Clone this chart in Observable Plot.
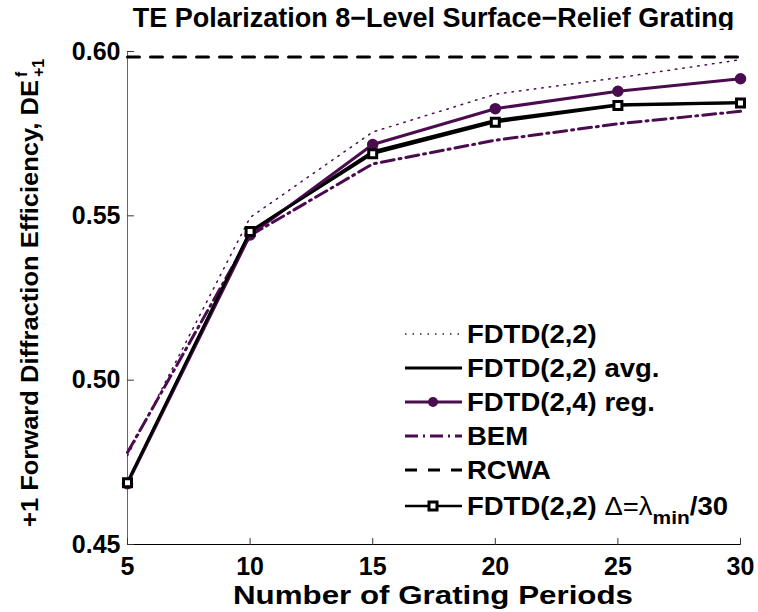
<!DOCTYPE html>
<html><head><meta charset="utf-8">
<script src="https://cdn.jsdelivr.net/npm/d3@7"></script>
<script src="https://cdn.jsdelivr.net/npm/@observablehq/plot@0.6"></script>
<style>
body{margin:0;background:#fff;font-family:"Liberation Sans",Arial,sans-serif;}
#wrap{position:relative;width:758px;height:612px;overflow:hidden;}
#title{position:absolute;top:3px;left:127px;width:613px;line-height:30px;text-align:center;font-weight:bold;font-size:27px;color:#000;white-space:nowrap;}
#chart{position:absolute;top:30px;left:0;}
</style></head>
<body><div id="wrap"><div id="title">TE Polarization 8−Level Surface−Relief Grating</div><div id="chart"></div></div>
<script>
const periods = [5, 10, 15, 20, 25, 30];
const fdtd22 = [0.4770, 0.5495, 0.5755, 0.5870, 0.5920, 0.5975];
const fdtd22avg = [0.4690, 0.5452, 0.5695, 0.5790, 0.5838, 0.5845];
const fdtd24reg = [0.4685, 0.5442, 0.5717, 0.5826, 0.5879, 0.5917];
const bem = [0.4780, 0.5440, 0.5658, 0.5730, 0.5780, 0.5818];
const rcwaValue = 0.5983;
const fdtd22d30 = [0.4688, 0.5452, 0.5689, 0.5785, 0.5836, 0.5843];
const xTicks = [5, 10, 15, 20, 25, 30];
const yTicks = [0.45, 0.50, 0.55, 0.60];
const legendLabels = ["FDTD(2,2)", "FDTD(2,2) avg.", "FDTD(2,4) reg.", "BEM", "RCWA", "FDTD(2,2) Δ=λmin/30"];

const purple = "#4b0c4f";
const rows = (vals) => periods.map((p, i) => ({x: p, y: vals[i]}));
const rcwaRows = [{x: periods[0], y: rcwaValue}, {x: periods[periods.length - 1], y: rcwaValue}];
const tickShape = {draw(context, l) { context.moveTo(0, 0); context.lineTo(0, -l); }};

const plot = Plot.plot({
  width: 758, height: 582,
  marginLeft: 127, marginRight: 18, marginTop: 21, marginBottom: 68,
  style: {fontFamily: "Liberation Sans, Arial, sans-serif", background: "#fff", color: "#000"},
  x: {domain: [5, 30]},
  y: {domain: [0.45, 0.60]},
  marks: [
    Plot.ruleX([5], {stroke: "#666", strokeWidth: 1}),
    Plot.ruleY([0.45], {stroke: "#000", strokeWidth: 1}),
    Plot.vector(xTicks, {x: d => d, y: () => 0.45, length: 6, anchor: "start", shape: tickShape, stroke: "#333", strokeWidth: 1}),
    Plot.vector(yTicks, {x: () => 5, y: d => d, length: 6, rotate: 90, anchor: "start", shape: tickShape, stroke: "#333", strokeWidth: 1}),
    Plot.axisX({ticks: xTicks, tickSize: 0, tickPadding: 13, label: null, fontSize: 25, fontWeight: "bold", tickFormat: d3.format("d")}),
    Plot.axisY({ticks: yTicks, tickSize: 0, tickPadding: 7, label: null, fontSize: 25, fontWeight: "bold", tickFormat: d3.format(".2f")}),
    Plot.line(rows(fdtd22), {x: "x", y: "y", stroke: purple, strokeWidth: 1.5, strokeDasharray: "1.5,6"}),
    Plot.line(rows(fdtd22avg), {x: "x", y: "y", stroke: "#000", strokeWidth: 3}),
    Plot.line(rows(fdtd24reg), {x: "x", y: "y", stroke: purple, strokeWidth: 3}),
    Plot.dot(rows(fdtd24reg), {x: "x", y: "y", r: 5, fill: purple, stroke: purple}),
    Plot.line(rows(bem), {x: "x", y: "y", stroke: purple, strokeWidth: 3, strokeDasharray: "13,5,2,5"}),
    Plot.line(rcwaRows, {x: "x", y: "y", stroke: "#000", strokeWidth: 3, strokeDasharray: "12,11"}),
    Plot.line(rows(fdtd22d30), {x: "x", y: "y", stroke: "#000", strokeWidth: 2.5}),
    Plot.dot(rows(fdtd22d30), {x: "x", y: "y", symbol: "square", r: 4.5, fill: "#fff", stroke: "#000", strokeWidth: 3})
  ]
});
document.getElementById("chart").appendChild(plot);

const svg = d3.select(plot);
const FONT = "Liberation Sans, Arial, sans-serif";
// Y label (rotated), main text then stacked superscript/subscript
const yg = svg.append("g").attr("transform", "translate(38,497) rotate(-90)")
  .attr("font-family", FONT).attr("font-weight", "bold").attr("fill", "#000").attr("text-anchor", "start");
yg.append("text").attr("x", 0).attr("y", 0).attr("font-size", 24)
  .attr("textLength", 447).attr("lengthAdjust", "spacingAndGlyphs")
  .text("+1 Forward Diffraction Efficiency, DE");
yg.append("text").attr("x", 450).attr("y", -11).attr("font-size", 16).text("f");
yg.append("text").attr("x", 450).attr("y", 6).attr("font-size", 16).text("+1");
// X label
svg.append("text").attr("x", 433).attr("y", 574).attr("text-anchor", "middle")
  .attr("font-family", FONT)
  .attr("font-weight", "bold").attr("font-size", 26).attr("fill", "#000")
  .attr("textLength", 400).attr("lengthAdjust", "spacingAndGlyphs")
  .text("Number of Grating Periods");

// Legend
const lg = svg.append("g").attr("font-family", FONT).attr("text-anchor", "start")
  .attr("font-weight", "bold").attr("font-size", 25).attr("fill", "#000");
const ly = [304, 338, 372, 406, 440, 476];
const styles = [
  {stroke: purple, w: 1.5, dash: "1.5,6"},
  {stroke: "#000", w: 3, dash: null},
  {stroke: purple, w: 3, dash: null, marker: "circle"},
  {stroke: purple, w: 3, dash: "13,5,2,5"},
  {stroke: "#000", w: 3, dash: "12,11"},
  {stroke: "#000", w: 2.5, dash: null, marker: "square"}
];
styles.forEach((s, i) => {
  const y = ly[i];
  const l = lg.append("line").attr("x1", 405).attr("x2", 462).attr("y1", y).attr("y2", y)
    .attr("stroke", s.stroke).attr("stroke-width", s.w);
  if (s.dash) l.attr("stroke-dasharray", s.dash);
  if (s.marker === "circle") lg.append("circle").attr("cx", 433).attr("cy", y).attr("r", 5).attr("fill", purple);
  if (s.marker === "square") lg.append("rect").attr("x", 429).attr("y", y - 4).attr("width", 8).attr("height", 8)
    .attr("fill", "#fff").attr("stroke", "#000").attr("stroke-width", 3);
  const t = lg.append("text").attr("x", 467).attr("y", y).attr("dy", "0.36em");
  if (i < 5) t.text(legendLabels[i]);
  else {
    t.append("tspan").text("FDTD(2,2) ");
    t.append("tspan").attr("font-weight", "normal").text("Δ=λ");
    t.append("tspan").attr("dy", 9).attr("font-size", 19).text("min");
    t.append("tspan").attr("dy", -9).text("/30");
  }
  t.attr("transform", `translate(${467 * (1 - 1.1)},0) scale(1.1,1)`);
});
</script></body></html>
